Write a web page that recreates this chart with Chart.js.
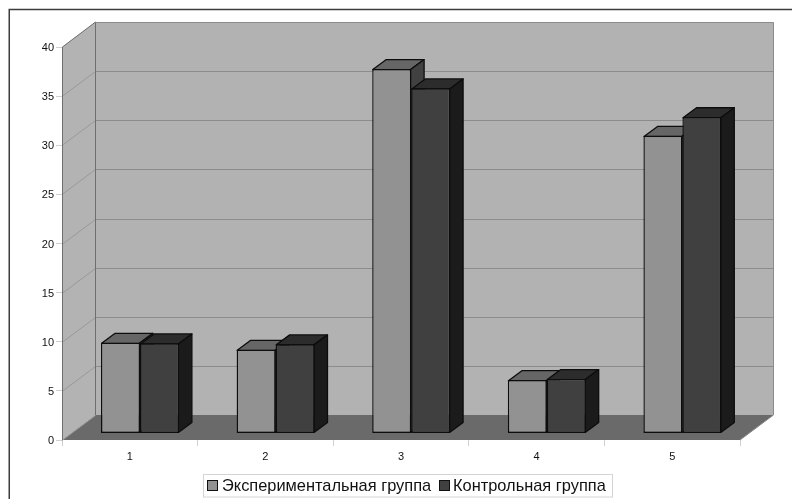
<!DOCTYPE html>
<html>
<head>
<meta charset="utf-8">
<style>html,body{margin:0;padding:0;background:#fff}canvas{display:block}</style>
<script src="https://cdn.jsdelivr.net/npm/chart.js@4"></script>
</head>
<body>
<canvas id="c" width="792" height="499"></canvas>
<script>
const categories = ['1', '2', '3', '4', '5'];
const experimental = [9.24, 8.53, 37.1, 5.44, 30.3];
const control = [9.18, 9.08, 35.13, 5.55, 32.2];
const seriesNames = ['Экспериментальная группа', 'Контрольная группа'];
const axisMax = 40;
const axisStep = 5;

// Depth of the box the chart sits in, and of each bar inside it.
const WALL = { dx: 33.5, dy: 25 };
const BAR = { dx: 13.5, dy: 10, shiftX: 10.2, shiftY: 6.5 };
const EDGE = '#0d0d0d';

const shades = [
  { front: '#929292', top: '#666666', side: '#414141' },
  { front: '#404040', top: '#2c2c2c', side: '#1b1b1b' }
];

function poly(ctx, pts, fill, stroke, lw) {
  ctx.beginPath();
  pts.forEach((p, i) => i ? ctx.lineTo(p[0], p[1]) : ctx.moveTo(p[0], p[1]));
  ctx.closePath();
  if (fill) { ctx.fillStyle = fill; ctx.fill(); }
  if (stroke) { ctx.strokeStyle = stroke; ctx.lineWidth = lw || 1; ctx.stroke(); }
}

function drawBox(chart) {
  const ctx = chart.ctx;
  const { left, right, top, bottom } = chart.chartArea;
  const y = chart.scales.y;
  ctx.save();
  ctx.strokeStyle = '#3c3c3c';
  ctx.lineWidth = 1.5;
  ctx.strokeRect(9.25, 9.5, 800, 520);

  const bl = left + WALL.dx, br = right + WALL.dx;
  const bt = top - WALL.dy, bb = bottom - WALL.dy;
  poly(ctx, [[left, bottom], [left, top], [bl, bt], [bl, bb]], '#b3b3b3');
  poly(ctx, [[bl, bt], [br, bt], [br, bb], [bl, bb]], '#b2b2b2');
  poly(ctx, [[left, bottom], [right, bottom], [br, bb], [bl, bb]], '#6a6a6a');

  y.ticks.forEach(t => {
    const py = Math.round(y.getPixelForValue(t.value)) + 0.5;
    if (t.value > 0 && t.value < axisMax) {
      ctx.strokeStyle = '#8c8c8c';
      ctx.lineWidth = 1;
      ctx.beginPath();
      ctx.moveTo(bl, py - WALL.dy);
      ctx.lineTo(br, py - WALL.dy);
      ctx.stroke();
    }
    if (t.value < axisMax) {
      ctx.strokeStyle = '#999999';
      ctx.lineWidth = 1;
      ctx.beginPath();
      ctx.moveTo(left, py);
      ctx.lineTo(bl, py - WALL.dy);
      ctx.stroke();
    }
  });

  ctx.lineWidth = 1;
  ctx.strokeStyle = '#6e6e6e';
  ctx.beginPath();
  ctx.moveTo(left + 0.5, bottom);
  ctx.lineTo(left + 0.5, top);
  ctx.lineTo(bl, bt);
  ctx.lineTo(bl, bb);
  ctx.stroke();
  ctx.strokeStyle = '#8c8c8c';
  ctx.beginPath();
  ctx.moveTo(bl, bt + 0.5);
  ctx.lineTo(br, bt + 0.5);
  ctx.lineTo(br, bb);
  ctx.lineTo(right, bottom);
  ctx.stroke();
  ctx.restore();
}

// Front faces come from the bar elements; top and side faces extend them backwards.
function drawSeries(chart, index) {
  const ctx = chart.ctx;
  const meta = chart.getDatasetMeta(index);
  const s = shades[index];
  ctx.save();
  ctx.translate(BAR.shiftX, -BAR.shiftY);
  ctx.lineJoin = 'round';
  meta.data.forEach(el => {
    const l = el.x - el.width / 2, r = el.x + el.width / 2;
    const t = el.y, b = el.base;
    poly(ctx, [[l + .6, t + .6], [r - .6, t + .6], [r - .6 + BAR.dx, t + .6 - BAR.dy], [l + .6 + BAR.dx, t + .6 - BAR.dy]], s.top, EDGE, 1.3);
    poly(ctx, [[r - .6, t + .6], [r - .6 + BAR.dx, t + .6 - BAR.dy], [r - .6 + BAR.dx, b - .6 - BAR.dy], [r - .6, b - .6]], s.side, EDGE, 1.3);
  });
  meta.controller.draw();
  ctx.restore();
}

// The right-hand series has to paint over the left-hand one, so the order is set here.
const boxPlugin = {
  id: 'box',
  beforeDatasetsDraw(chart) {
    drawBox(chart);
    chart.data.datasets.forEach((ds, i) => drawSeries(chart, i));
    return false;
  }
};

// Boxed legend under the chart.
const legendPlugin = {
  id: 'boxLegend',
  afterDraw(chart) {
    const ctx = chart.ctx;
    ctx.save();
    ctx.fillStyle = '#ffffff';
    ctx.strokeStyle = '#d4d4d4';
    ctx.lineWidth = 1;
    ctx.fillRect(203, 474, 409, 23);
    ctx.strokeRect(203.5, 474.5, 409, 22.5);
    ctx.font = '16.4px "Liberation Sans", Arial, sans-serif';
    ctx.textBaseline = 'middle';
    ctx.textAlign = 'left';
    const slots = [{ box: 207.5, text: 222 }, { box: 439.5, text: 453 }];
    chart.data.datasets.forEach((ds, i) => {
      ctx.fillStyle = ds.backgroundColor;
      ctx.strokeStyle = '#111111';
      ctx.fillRect(slots[i].box, 480.5, 10, 10);
      ctx.strokeRect(slots[i].box, 480.5, 10, 10);
      ctx.fillStyle = '#111111';
      ctx.fillText(ds.label, slots[i].text, 486);
    });
    ctx.restore();
  }
};

const tickFont = { family: '"Liberation Sans", Arial, sans-serif', size: 11 };

new Chart(document.getElementById('c'), {
  type: 'bar',
  data: {
    labels: categories,
    datasets: [
      { label: seriesNames[0], data: experimental, backgroundColor: shades[0].front },
      { label: seriesNames[1], data: control, backgroundColor: shades[1].front }
    ].map(d => ({
      ...d,
      borderColor: EDGE,
      borderWidth: 1.4,
      borderSkipped: false,
      categoryPercentage: 0.575,
      barPercentage: 1
    }))
  },
  options: {
    responsive: false,
    animation: false,
    devicePixelRatio: 1,
    layout: { padding: { left: 12, right: 52, top: 47, bottom: 34 } },
    plugins: { legend: { display: false }, tooltip: { enabled: false } },
    scales: {
      x: {
        offset: true,
        afterFit(s) { s.height = 25; },
        border: { display: false },
        grid: { offset: true, drawOnChartArea: false, drawTicks: true, tickLength: 6, color: '#d0d0d0' },
        ticks: { color: '#111111', font: tickFont, padding: 4, maxRotation: 0 }
      },
      y: {
        min: 0,
        max: axisMax,
        afterFit(s) { s.width = 50; },
        border: { display: false },
        grid: { drawOnChartArea: false, drawTicks: true, tickLength: 6, color: '#d0d0d0' },
        ticks: { stepSize: axisStep, color: '#111111', font: tickFont, padding: 2, labelOffset: 1 }
      }
    }
  },
  plugins: [boxPlugin, legendPlugin]
});
</script>
</body>
</html>
